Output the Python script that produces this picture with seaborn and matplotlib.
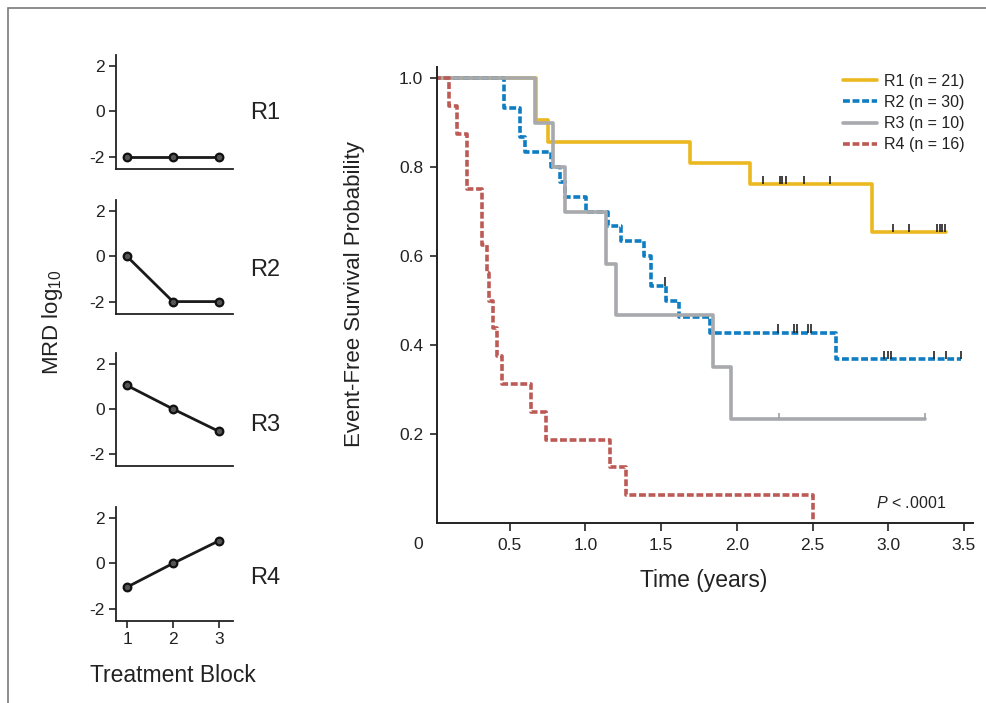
import matplotlib
matplotlib.use("Agg")
import matplotlib.pyplot as plt
import matplotlib.patches as mpatches
import numpy as np
import pandas as pd
import seaborn as sns

# ---------------- data ----------------
blocks = [1, 2, 3]
mrd_groups = ["R1", "R2", "R3", "R4"]
mrd_r1 = [-2, -2, -2]
mrd_r2 = [0, -2, -2]
mrd_r3 = [1.05, 0, -1]
mrd_r4 = [-1.05, 0, 1]

r1_t = [0, 0.675, 0.755, 1.69, 2.09, 2.89, 3.38]
r1_s = [1.0, 0.905, 0.857, 0.81, 0.762, 0.654, 0.654]
r1_cens = [2.175, 2.286, 2.299, 2.325, 2.446, 2.615, 3.034, 3.138, 3.325, 3.340, 3.355, 3.372]

r2_t = [0, 0.464, 0.567, 0.604, 0.77, 0.83, 0.864, 1.007, 1.149, 1.237, 1.387,
        1.435, 1.53, 1.62, 1.824, 2.654, 3.479]
r2_s = [1.0, 0.933, 0.867, 0.833, 0.80, 0.767, 0.733, 0.70, 0.667, 0.633, 0.60,
        0.533, 0.50, 0.462, 0.428, 0.368, 0.368]
r2_cens = [1.523, 2.274, 2.375, 2.397, 2.472, 2.49, 2.969, 3.0, 3.017, 3.303, 3.384, 3.479]

r3_t = [0, 0.67, 0.787, 0.868, 1.138, 1.20, 1.846, 1.962, 3.24]
r3_s = [1.0, 0.90, 0.80, 0.70, 0.583, 0.467, 0.35, 0.233, 0.233]
r3_cens = [2.28, 3.24]

r4_t = [0, 0.10, 0.155, 0.215, 0.32, 0.347, 0.366, 0.39, 0.415, 0.45, 0.64,
        0.74, 1.16, 1.27, 2.5]
r4_s = [1.0, 0.9375, 0.875, 0.75, 0.625, 0.5625, 0.5, 0.4375, 0.375, 0.3125, 0.25,
        0.1875, 0.125, 0.0625, 0.0]
r4_cens = []

legend_labels = ["R1 (n = 21)", "R2 (n = 30)", "R3 (n = 10)", "R4 (n = 16)"]
km_xticks = [0.5, 1.0, 1.5, 2.0, 2.5, 3.0, 3.5]
km_yticks = [0.2, 0.4, 0.6, 0.8, 1.0]

# ---------------- style ----------------
sns.set_theme(style="ticks")
plt.rcParams["font.family"] = ["Liberation Sans", "DejaVu Sans"]
plt.rcParams["mathtext.fontset"] = "custom"
plt.rcParams["mathtext.rm"] = "Liberation Sans"
plt.rcParams["mathtext.it"] = "Liberation Sans:italic"
plt.rcParams["axes.edgecolor"] = "#222222"
plt.rcParams["xtick.color"] = "#222222"
plt.rcParams["ytick.color"] = "#222222"
plt.rcParams["text.color"] = "#222222"

W, H = 987, 703
fig = plt.figure(figsize=(W / 100, H / 100), dpi=100)
fig.patch.set_facecolor("white")


def fx(px):
    return px / W


def fy(py):
    return 1 - py / H


# frame border
fig.add_artist(mpatches.Rectangle((fx(8), -0.05), 1.2, fy(8) + 0.05,
                                  transform=fig.transFigure, fill=False,
                                  edgecolor="#7a7a7a", lw=1.2))

# ---------------- left MRD panels ----------------
panel_px = [(55, 169), (200, 314), (353, 466), (507, 621)]
mrd_vals = [mrd_r1, mrd_r2, mrd_r3, mrd_r4]
label_y = [113, 270, 425, 578]
for i, (top, bot) in enumerate(panel_px):
    axm = fig.add_axes([fx(116), fy(bot), fx(233) - fx(116), fy(top) - fy(bot)])
    df = pd.DataFrame({"block": blocks, "mrd": mrd_vals[i]})
    sns.lineplot(data=df, x="block", y="mrd", ax=axm, color="#1a1a1a", lw=2.0,
                 marker="o", markersize=5.5, markerfacecolor="#555555",
                 markeredgecolor="#111111", markeredgewidth=1.6,
                 estimator=None, sort=False)
    axm.set_xlim(0.76, 3.31)
    axm.set_ylim(-2.55, 2.5)
    axm.set_yticks([2, 0, -2])
    axm.set_yticklabels(["2", "0", "-2"], fontsize=12.5)
    axm.set_xlabel("")
    axm.set_ylabel("")
    for s in ["top", "right"]:
        axm.spines[s].set_visible(False)
    axm.spines["left"].set_linewidth(1.3)
    axm.spines["bottom"].set_linewidth(1.3)
    axm.tick_params(axis="y", length=5, width=1.2, pad=3)
    if i == 3:
        axm.set_xticks(blocks)
        axm.set_xticklabels([str(b) for b in blocks], fontsize=12.5)
        axm.tick_params(axis="x", length=5, width=1.2, pad=3)
    else:
        axm.set_xticks([])
    fig.text(fx(250), fy(label_y[i]), mrd_groups[i], fontsize=17,
             ha="left", va="center")

fig.text(fx(53), fy(322), r"MRD log$_{\mathregular{10}}$", fontsize=16, rotation=90,
         ha="center", va="center")
fig.text(fx(173), fy(676), "Treatment Block", fontsize=16.5, ha="center", va="center")

# ---------------- KM plot ----------------
ax = fig.add_axes([fx(437), fy(523), fx(973) - fx(437), fy(67) - fy(523)])
curves = [
    (r1_t, r1_s, r1_cens, "#EBB820", None, "#222222", 8.5),
    (r2_t, r2_s, r2_cens, "#0F7DC2", (1.9, 0.75), "#222222", 8.5),
    (r3_t, r3_s, r3_cens, "#A8A9AC", None, "#A0A0A0", 6.5),
    (r4_t, r4_s, r4_cens, "#BC5A55", (1.9, 0.75), "#222222", 8.5),
]
handles = []
for (t, s, cens, col, dash, ccol, clen), lab in zip(curves, legend_labels):
    df = pd.DataFrame({"time": t, "surv": s})
    n_before = len(ax.get_lines())
    sns.lineplot(data=df, x="time", y="surv", ax=ax, color=col, lw=2.6,
                 drawstyle="steps-post", estimator=None, sort=False,
                 label=lab)
    line = ax.get_lines()[n_before]
    if dash is not None:
        line.set_dashes(dash)
        line.set_dash_capstyle("butt")
    handles.append(line)
    if cens:
        ts = np.array(t)
        ss = np.array(s)
        yc = [ss[np.searchsorted(ts, c, side="right") - 1] for c in cens]
        h = clen / 445.0
        ax.vlines(cens, yc, np.array(yc) + h, color=ccol, lw=1.2, zorder=5)

ax.set_xlim(0.02, 3.56)
ax.set_ylim(0, 1.025)
ax.set_xticks(km_xticks)
ax.set_xticklabels([f"{v:.1f}" for v in km_xticks], fontsize=12.5)
ax.set_yticks(km_yticks)
ax.set_yticklabels([f"{v:.1f}" for v in km_yticks], fontsize=12.5)
ax.tick_params(axis="x", length=6, width=1.2, pad=5)
ax.tick_params(axis="y", length=5, width=1.2, pad=5)
for sp in ["top", "right"]:
    ax.spines[sp].set_visible(False)
ax.spines["left"].set_linewidth(1.4)
ax.spines["bottom"].set_linewidth(1.4)
ax.set_xlabel("")
ax.set_ylabel("")
ax.text(-0.035, -0.03, "0", transform=ax.transAxes, fontsize=12.5,
        ha="center", va="top")

leg = ax.legend(handles=handles, labels=legend_labels, loc="upper left",
                bbox_to_anchor=((843 - 437) / 536, (523 - 74) / 456),
                frameon=False, fontsize=11.5, handlelength=2.1,
                handletextpad=0.45, labelspacing=0.38, borderpad=0,
                borderaxespad=0)

fig.text(fx(876), fy(503), r"$\mathit{P}$ < .0001", fontsize=11.5,
         ha="left", va="center")

fig.text(fx(355), fy(294), "Event-Free Survival Probability", fontsize=16,
         rotation=90, ha="center", va="center")
fig.text(fx(704), fy(580), "Time (years)", fontsize=16.5, ha="center", va="center")

fig.savefig("out.png", dpi=100, facecolor="white")
